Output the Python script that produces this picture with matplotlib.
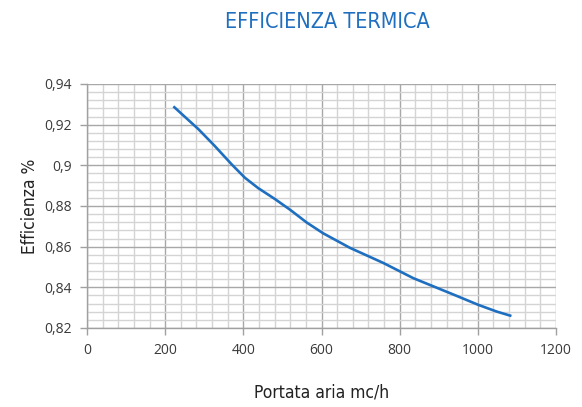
import matplotlib
matplotlib.use("Agg")
import matplotlib.pyplot as plt
from matplotlib import font_manager as fm
from matplotlib.ticker import MultipleLocator, FuncFormatter

# portata aria (mc/h) vs efficienza termica
portata = [221, 285, 327, 370, 404, 438, 481, 520, 562, 604, 673, 758, 835, 937, 1001, 1048, 1086]
efficienza = [0.9290, 0.9178, 0.9095, 0.9005, 0.8939, 0.8888, 0.8834, 0.8781, 0.8719,
              0.8666, 0.8594, 0.8520, 0.8445, 0.8365, 0.8314, 0.8281, 0.8259]

title = "EFFICIENZA TERMICA"
x_label = "Portata aria mc/h"
y_label = "Efficienza %"

BLUE = "#1f6fc0"


def narrow_font(size):
    # first regular condensed / narrow face that is installed, else plain DejaVu
    wanted = ("Narrow", "Condensed", "Cond")
    for f in fm.fontManager.ttflist:
        if any(w in f.name for w in wanted) or f.stretch in ("condensed", "semi-condensed"):
            if f.style == "normal" and (f.weight in (400, "normal", "regular")):
                return fm.FontProperties(fname=f.fname, size=size)
    return fm.FontProperties(family="DejaVu Sans", size=size)


tick_font = ["Open Sans", "DejaVu Sans"]

fig = plt.figure(figsize=(5.82, 4.07), dpi=100)
ax = fig.add_axes([87 / 582, 1 - 328 / 407, (556 - 87) / 582, (328 - 84) / 407])

ax.plot(portata, efficienza, color=BLUE, linewidth=1.9, solid_capstyle="butt",
        solid_joinstyle="round")

ax.set_xlim(0, 1200)
ax.set_ylim(0.82, 0.94)
ax.xaxis.set_major_locator(MultipleLocator(200))
ax.xaxis.set_minor_locator(MultipleLocator(40))
ax.yaxis.set_major_locator(MultipleLocator(0.02))
ax.yaxis.set_minor_locator(MultipleLocator(0.004))


def comma_fmt(v, _pos):
    s = f"{v:.2f}".rstrip("0").rstrip(".")
    return s.replace(".", ",")


ax.yaxis.set_major_formatter(FuncFormatter(comma_fmt))

ax.grid(which="major", color="#a8a8a8", linewidth=1.0)
ax.grid(which="minor", color="#d4d4d4", linewidth=1.0)
ax.set_axisbelow(True)
for side in ("top", "right"):
    ax.spines[side].set_visible(False)
for side in ("left", "bottom"):
    ax.spines[side].set_color("#a0a0a0")
    ax.spines[side].set_linewidth(1.0)

ax.tick_params(which="major", length=5, width=1.0, color="#a0a0a0",
               labelsize=10, labelcolor="#3a3a3a", pad=6)
ax.tick_params(which="minor", length=0)
for lab in ax.get_xticklabels() + ax.get_yticklabels():
    lab.set_family(tick_font)

ax.set_xlabel(x_label, fontproperties=narrow_font(12.5), color="#222222", labelpad=18)
ax.set_ylabel(y_label, fontproperties=narrow_font(12.5), color="#222222", labelpad=4)

fig.text(327 / 582, 1 - 22 / 407, title, ha="center", va="center",
         fontproperties=narrow_font(15.5), color=BLUE)

fig.savefig("out.png", dpi=100)
